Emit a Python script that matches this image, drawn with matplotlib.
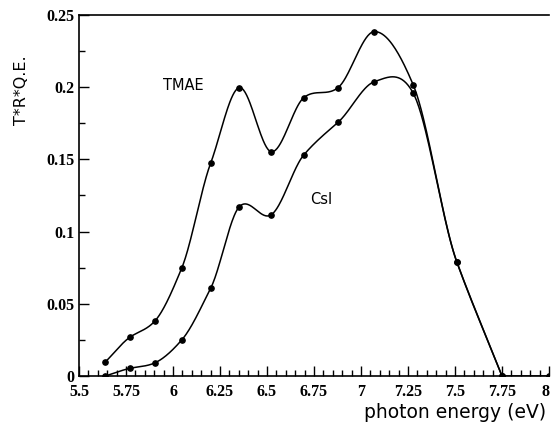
import numpy as np
import matplotlib.pyplot as plt
from matplotlib.ticker import MultipleLocator, FormatStrFormatter

# photon energy (eV) and T*R*Q.E.
energy = [5.64, 5.77, 5.905, 6.046, 6.2, 6.353, 6.523, 6.695, 6.878, 7.071, 7.278, 7.509, 7.75]
tmae = [0.0097, 0.0268, 0.0383, 0.0746, 0.1473, 0.1997, 0.1553, 0.1927, 0.1997, 0.2385, 0.2015, 0.0792, 0.0]
csi = [0.0, 0.0053, 0.0092, 0.0249, 0.0607, 0.1173, 0.1117, 0.153, 0.1757, 0.2038, 0.1958, 0.0792, 0.0]
tail_x = [7.75, 8.0]
tail_y = [0.0, 0.0]
xticks = [5.5, 5.75, 6, 6.25, 6.5, 6.75, 7, 7.25, 7.5, 7.75, 8]
xtick_labels = ["5.5", "5.75", "6", "6.25", "6.5", "6.75", "7", "7.25", "7.5", "7.75", "8"]


def smooth(x, y, c=0.15, n=40):
    # cardinal (Hermite) spline through the points, only for drawing the line
    x = np.asarray(x, float)
    y = np.asarray(y, float)
    m = np.zeros_like(y)
    m[1:-1] = (1 - c) * (y[2:] - y[:-2]) / (x[2:] - x[:-2])
    m[0] = (y[1] - y[0]) / (x[1] - x[0])
    m[-1] = (y[-1] - y[-2]) / (x[-1] - x[-2])
    xs_all, ys_all = [], []
    for i in range(len(x) - 1):
        h = x[i + 1] - x[i]
        t = np.linspace(0, 1, n)
        h00 = 2 * t**3 - 3 * t**2 + 1
        h10 = t**3 - 2 * t**2 + t
        h01 = -2 * t**3 + 3 * t**2
        h11 = t**3 - t**2
        xs_all.append(x[i] + t * h)
        ys_all.append(h00 * y[i] + h10 * h * m[i] + h01 * y[i + 1] + h11 * h * m[i + 1])
    return np.concatenate(xs_all), np.concatenate(ys_all)


fig = plt.figure(figsize=(5.51, 4.33), dpi=100)
ax = fig.add_axes([0.1434, 0.1316, 0.853, 0.8338])

for yy in (tmae, csi):
    xs, ys = smooth(energy, yy)
    ax.plot(xs, ys, color="black", lw=1.1)
    ax.plot(energy, yy, "o", color="black", ms=3.8)
ax.plot(tail_x, tail_y, color="black", lw=1.1, marker="o", ms=3.8)

ax.set_xlim(5.5, 8.0)
ax.set_ylim(0, 0.25)
ax.set_xticks(xticks, xtick_labels)
ax.xaxis.set_minor_locator(MultipleLocator(0.05))
ax.yaxis.set_major_locator(MultipleLocator(0.05))
ax.yaxis.set_minor_locator(MultipleLocator(0.025))
ax.yaxis.set_major_formatter(FormatStrFormatter("%g"))
ax.tick_params(which="both", direction="in", top=False, right=False, width=1.0)
ax.tick_params(which="major", length=7)
ax.tick_params(which="minor", length=4)
ax.tick_params(axis="x", pad=6)
ax.spines["right"].set_visible(False)
for s in ("left", "bottom", "top"):
    ax.spines[s].set_linewidth(1.2)

for lab in ax.get_xticklabels() + ax.get_yticklabels():
    lab.set_family("Liberation Serif")
    lab.set_fontweight("bold")
    lab.set_fontsize(11.5)
# last x label sits at the figure edge: keep it inside
ax.get_xticklabels()[-1].set_horizontalalignment("right")

ax.text(5.947, 0.2015, "TMAE", fontsize=10.5, family="DejaVu Sans", va="center")
ax.text(6.729, 0.1219, "CsI", fontsize=10.5, family="DejaVu Sans", va="center")

fig.text(22 / 551, 1 - 90 / 433, "T*R*Q.E.", rotation=90, ha="center", va="center",
         fontsize=11.5, family="DejaVu Sans")
fig.text(455 / 551, 1 - 412 / 433, "photon energy (eV)", ha="center", va="center",
         fontsize=13.5, family="DejaVu Sans")

fig.savefig("out.png", dpi=100)
